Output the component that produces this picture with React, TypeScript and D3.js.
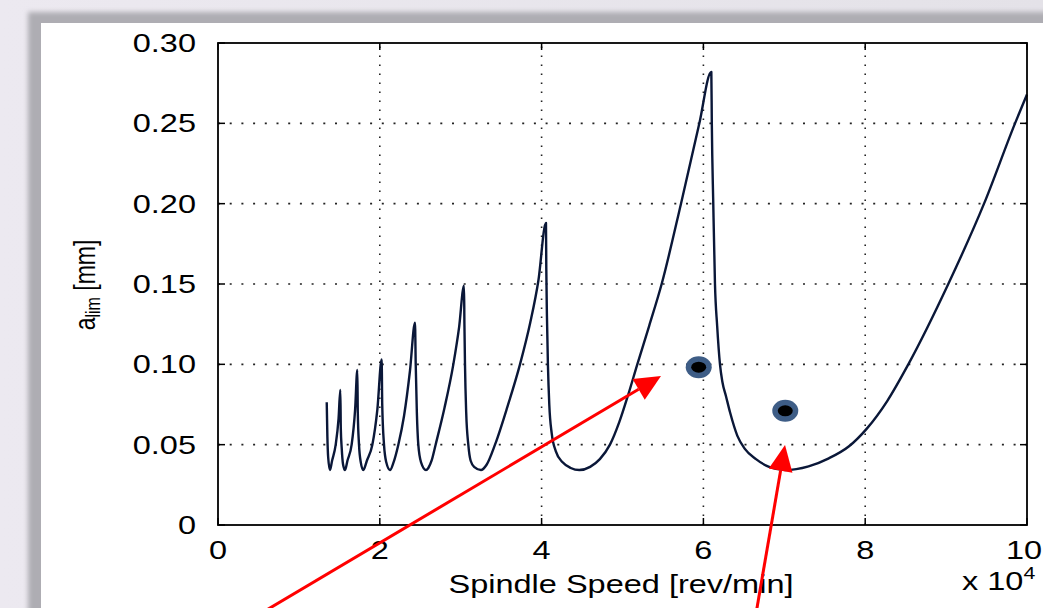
import React from 'react';
import * as d3 from 'd3';

// stability lobe, spindle speed in 10^4 rev/min, depth limit in mm
const lobeSpeed = [
  1.344, 1.352, 1.362, 1.384, 1.41, 1.455, 1.49, 1.512,
  1.518, 1.529, 1.545, 1.570, 1.60, 1.652, 1.695, 1.722,
  1.728, 1.743, 1.765, 1.796, 1.84, 1.908, 1.97, 2.023,
  2.03, 2.052, 2.08, 2.126, 2.17, 2.229, 2.30, 2.373, 2.435,
  2.444, 2.458, 2.476, 2.51, 2.571, 2.60, 2.64, 2.69, 2.80, 2.909, 2.98, 3.041,
  3.046, 3.053, 3.068, 3.094, 3.123, 3.17, 3.25, 3.32, 3.424, 3.58, 3.733, 3.86, 3.96, 4.054,
  4.058, 4.066, 4.078, 4.095, 4.125, 4.175, 4.26, 4.36, 4.466,
  4.60, 4.72, 4.845, 4.96, 5.07, 5.183, 5.33, 5.484, 5.723, 5.95, 6.098,
  6.104, 6.122, 6.143, 6.17, 6.205, 6.235, 6.28, 6.33, 6.42, 6.51, 6.65, 6.82, 7.01,
  7.30, 7.55, 7.80, 8.02, 8.27, 8.533, 9.027, 9.469, 9.852, 10.0,
];
const lobeDepth = [
  0.0764, 0.055, 0.042, 0.0342, 0.040, 0.050, 0.066, 0.084,
  0.060, 0.048, 0.038, 0.0342, 0.040, 0.050, 0.072, 0.0965,
  0.070, 0.050, 0.039, 0.0342, 0.040, 0.050, 0.072, 0.1031,
  0.075, 0.050, 0.039, 0.0342, 0.039, 0.050, 0.068, 0.096, 0.1259,
  0.100, 0.070, 0.050, 0.039, 0.0342, 0.0355, 0.040, 0.050, 0.073, 0.100, 0.123, 0.149,
  0.125, 0.100, 0.070, 0.050, 0.040, 0.036, 0.0342, 0.0375, 0.050, 0.074, 0.100, 0.126, 0.152, 0.188,
  0.160, 0.130, 0.100, 0.075, 0.057, 0.046, 0.039, 0.0355, 0.0342,
  0.0362, 0.0410, 0.0500, 0.064, 0.081, 0.100, 0.124, 0.150, 0.200, 0.250, 0.282,
  0.250, 0.200, 0.150, 0.124, 0.100, 0.089, 0.080, 0.070, 0.0555, 0.0475, 0.041, 0.036, 0.0342,
  0.0365, 0.0415, 0.049, 0.060, 0.077, 0.100, 0.150, 0.200, 0.250, 0.268,
];

const xTicks = [0, 2, 4, 6, 8, 10];
const yTicks = [0, 0.05, 0.10, 0.15, 0.20, 0.25, 0.30];

// test points (blue rings)
const markerSpeed = [5.942, 7.012];
const markerDepth = [0.0982, 0.0711];

// red arrows: from -> to
const arrowFromSpeed = [0.43, 6.641];
const arrowFromDepth = [-0.058, -0.0579];
const arrowToSpeed = [5.476, 7.009];
const arrowToDepth = [0.0927, 0.0498];

const W = 1043;
const H = 608;
const left = 218, right = 1027, top = 43, bottom = 525;
const FONT = '"Liberation Sans", Arial, Helvetica, sans-serif';
const SX = 1.25; // the source picture is stretched sideways

export default function App() {
  const x = d3.scaleLinear().domain([0, 10]).range([left, right]);
  const y = d3.scaleLinear().domain([0, 0.3]).range([bottom, top]);

  const pts: [number, number][] = lobeSpeed.map((s, i) => [s, lobeDepth[i]]);
  const line = d3.line<[number, number]>()
    .x(d => x(d[0]))
    .y(d => y(d[1]))
    .curve(d3.curveMonotoneX);

  const fmtY = (v: number) => (v === 0 ? '0' : d3.format('.2f')(v));
  const tick = 7;

  const arrows = arrowToSpeed.map((_, i) => {
    const x0 = x(arrowFromSpeed[i]), y0 = y(arrowFromDepth[i]);
    const x1 = x(arrowToSpeed[i]), y1 = y(arrowToDepth[i]);
    const a = Math.atan2(y1 - y0, x1 - x0);
    const len = 26, hw = 12;
    const bx = x1 - len * Math.cos(a), by = y1 - len * Math.sin(a);
    const px = -Math.sin(a) * hw, py = Math.cos(a) * hw;
    return {
      x0, y0, bx, by,
      head: `${x1},${y1} ${bx + px},${by + py} ${bx - px},${by - py}`,
    };
  });

  return (
    <div style={{ position: 'absolute', left: 0, top: 0 }}>
      <svg width={W} height={H} style={{ display: 'block', overflow: 'hidden' }} fontFamily={FONT}>
        <defs>
          <linearGradient id="bg" x1="0" y1="0" x2="1" y2="0">
            <stop offset="0" stopColor="#ece9f0" />
            <stop offset="1" stopColor="#e4e2e8" />
          </linearGradient>
          <filter id="blur" x="-5%" y="-5%" width="110%" height="110%">
            <feGaussianBlur stdDeviation="2.5" />
          </filter>
        </defs>
        <rect x={0} y={0} width={W} height={H} fill="url(#bg)" />
        <rect x={28} y={12} width={W} height={H} fill="#aeadb3" filter="url(#blur)" />
        <rect x={41} y={23} width={W} height={H} fill="#ffffff" />

        {/* grid */}
        <g stroke="#222" strokeWidth={1.6}>
          {xTicks.filter(v => v > 0 && v < 10).map(v => (
            <line key={'gx' + v} x1={x(v)} x2={x(v)} y1={bottom} y2={top} strokeDasharray="1.6,7.4" />
          ))}
          {yTicks.filter(v => v > 0 && v < 0.3).map(v => (
            <line key={'gy' + v} x1={left} x2={right} y1={y(v)} y2={y(v)} strokeDasharray="2,9.7" />
          ))}
        </g>

        {/* inward ticks on all four sides */}
        <g stroke="#000" strokeWidth={1.5}>
          {xTicks.map(v => (
            <g key={'tx' + v}>
              <line x1={x(v)} x2={x(v)} y1={bottom} y2={bottom - tick} />
              <line x1={x(v)} x2={x(v)} y1={top} y2={top + tick} />
            </g>
          ))}
          {yTicks.map(v => (
            <g key={'ty' + v}>
              <line x1={left} x2={left + tick} y1={y(v)} y2={y(v)} />
              <line x1={right} x2={right - tick} y1={y(v)} y2={y(v)} />
            </g>
          ))}
        </g>

        <path d={line(pts) || ''} fill="none" stroke="#0a1738" strokeWidth={2.4} strokeLinejoin="round" />

        <rect x={left} y={top} width={right - left} height={bottom - top} fill="none" stroke="#000" strokeWidth={1.8} />

        {/* tick labels */}
        <g fontSize={26} fill="#000">
          {xTicks.map(v => (
            <g key={'lx' + v} transform={`translate(${Math.min(x(v), 1024)},559) scale(${SX},1)`}>
              <text textAnchor="middle">{v}</text>
            </g>
          ))}
          {yTicks.map(v => (
            <g key={'ly' + v} transform={`translate(196,${y(v)}) scale(${SX},1)`}>
              <text textAnchor="end" dy="0.35em">{fmtY(v)}</text>
            </g>
          ))}
          <g transform={`translate(621,593) scale(${SX},1)`}>
            <text textAnchor="middle">Spindle Speed [rev/min]</text>
          </g>
          <g transform={`translate(962,590) scale(${SX},1)`}>
            <text>x 10<tspan fontSize={17} dy={-11}>4</tspan></text>
          </g>
          <g transform={`translate(95,285) scale(${SX},1) rotate(-90)`}>
            <text textAnchor="middle" fontSize={23}>
              a<tspan fontSize={16} dy={4}>lim</tspan><tspan dy={-4}> [mm]</tspan>
            </text>
          </g>
        </g>

        {/* measured points */}
        {markerSpeed.map((s, i) => (
          <g key={'m' + i}>
            <ellipse cx={x(s)} cy={y(markerDepth[i])} rx={13} ry={11} fill="#3e5d86" />
            <ellipse cx={x(s)} cy={y(markerDepth[i])} rx={7.5} ry={5.5} fill="#000" />
          </g>
        ))}

        {/* arrows */}
        {arrows.map((a, i) => (
          <g key={'a' + i}>
            <line x1={a.x0} y1={a.y0} x2={a.bx} y2={a.by} stroke="#ff0000" strokeWidth={3} />
            <polygon points={a.head} fill="#ff0000" />
          </g>
        ))}
      </svg>
    </div>
  );
}
